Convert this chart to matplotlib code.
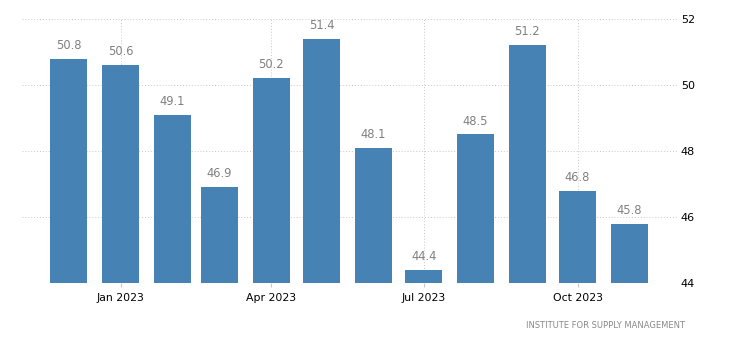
import matplotlib.pyplot as plt
import numpy as np
import pandas as pd

# ISM manufacturing PMI, monthly
months = pd.date_range("2022-12-01", "2023-11-01", freq="MS")
pmi = [50.8, 50.6, 49.1, 46.9, 50.2, 51.4, 48.1, 44.4, 48.5, 51.2, 46.8, 45.8]
tick_dates = pd.to_datetime(["2023-01-01", "2023-04-01", "2023-07-01", "2023-10-01"])
tick_labels = ["Jan 2023", "Apr 2023", "Jul 2023", "Oct 2023"]
y_ticks = [44, 46, 48, 50, 52]
source = "INSTITUTE FOR SUPPLY MANAGEMENT"

BAR_COLOR = "#4682b4"
GRID_COLOR = "#c8c8c8"

fig = plt.figure(figsize=(7.31, 3.49), dpi=100)
ax = fig.add_axes([22 / 731, 66 / 349, 656 / 731, 264 / 349])

ax.bar(months, np.array(pmi) - 44, bottom=44, width=22, color=BAR_COLOR, zorder=2)

for d, v in zip(months, pmi):
    ax.annotate(f"{v:.1f}", (d, v), xytext=(0, 5), textcoords="offset points",
                ha="center", va="bottom", fontsize=8.3, color="#808080")

ax.set_xlim(months[0] - pd.Timedelta(days=28), months[-1] + pd.Timedelta(days=29))
ax.set_ylim(44, 52)

ax.set_xticks(tick_dates)
ax.set_xticklabels(tick_labels, fontsize=7.8, color="black")
ax.set_yticks(y_ticks)
ax.yaxis.tick_right()
ax.tick_params(axis="y", length=0, pad=2, labelsize=8, labelcolor="black")
ax.tick_params(axis="x", length=3, color=GRID_COLOR, pad=4)

ax.grid(True, linestyle=(0, (1, 2)), color=GRID_COLOR, linewidth=0.7, zorder=0)
ax.set_axisbelow(True)
for s in ax.spines.values():
    s.set_visible(False)

fig.text(685 / 731, 1 - 325 / 349, source, ha="right", va="center",
         fontsize=6, color="#8a8a8a")

fig.savefig("out.png", dpi=100)
